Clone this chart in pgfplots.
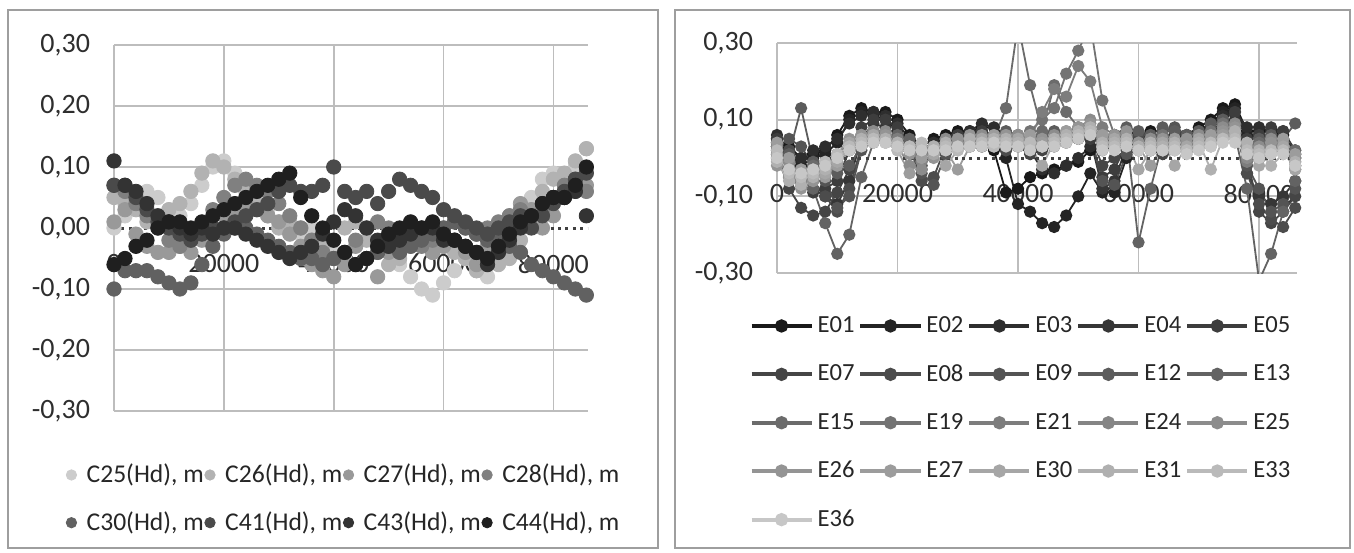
\documentclass[border=0pt]{standalone}
\usepackage{fontspec}
\setmainfont{Carlito}
\usepackage{pgfplots}
\usepackage{pgfplotstable}
\pgfplotsset{compat=1.18}
\definecolor{gridc}{gray}{0.74}
\definecolor{framec}{gray}{0.62}
\definecolor{C25}{gray}{0.80}\definecolor{C26}{gray}{0.70}\definecolor{C27}{gray}{0.60}\definecolor{C28}{gray}{0.50}
\definecolor{C30}{gray}{0.38}\definecolor{C41}{gray}{0.29}\definecolor{C43}{gray}{0.20}\definecolor{C44}{gray}{0.12}
\definecolor{E01}{gray}{0.10}\definecolor{E02}{gray}{0.14}\definecolor{E03}{gray}{0.18}\definecolor{E04}{gray}{0.21}
\definecolor{E05}{gray}{0.24}\definecolor{E07}{gray}{0.27}\definecolor{E08}{gray}{0.30}\definecolor{E09}{gray}{0.33}
\definecolor{E12}{gray}{0.36}\definecolor{E13}{gray}{0.39}\definecolor{E15}{gray}{0.42}\definecolor{E19}{gray}{0.45}
\definecolor{E21}{gray}{0.49}\definecolor{E24}{gray}{0.52}\definecolor{E25}{gray}{0.55}\definecolor{E26}{gray}{0.58}
\definecolor{E27}{gray}{0.61}\definecolor{E30}{gray}{0.65}\definecolor{E31}{gray}{0.69}\definecolor{E33}{gray}{0.73}
\definecolor{E36}{gray}{0.78}
\newcommand{\zerolab}{0,00}

\pgfplotstableread{
x C25 C26 C27 C28 C30 C41 C43 C44
0 0.00 0.05 0.01 0.07 -0.10 0.07 0.11 -0.06
2000 0.02 0.04 0.03 0.06 -0.07 0.07 0.07 -0.05
4000 0.05 0.03 -0.01 0.04 -0.07 0.05 0.06 -0.03
6000 0.06 0.01 -0.03 0.02 -0.07 0.03 0.04 -0.02
8000 0.05 0.02 -0.04 0.00 -0.08 0.01 0.02 0.00
10000 0.03 0.03 -0.04 -0.02 -0.09 0.00 0.01 0.01
12000 0.02 0.04 -0.03 -0.03 -0.10 -0.01 0.00 0.01
14000 0.04 0.06 -0.04 -0.02 -0.09 -0.02 -0.01 0.00
16000 0.07 0.09 -0.02 0.00 -0.06 -0.01 0.00 0.01
18000 0.10 0.11 0.00 0.03 -0.03 0.00 -0.01 0.02
20000 0.11 0.10 0.02 0.05 -0.01 0.00 0.00 0.03
22000 0.09 0.08 0.03 0.07 0.00 0.01 0.00 0.04
24000 0.07 0.06 0.04 0.08 0.00 0.02 -0.01 0.05
26000 0.05 0.04 0.03 0.07 -0.01 0.03 -0.02 0.06
28000 0.03 0.02 0.02 0.06 -0.02 0.04 -0.03 0.07
30000 0.01 0.00 0.01 0.04 -0.03 0.06 -0.04 0.08
32000 0.00 0.01 -0.01 0.02 -0.04 0.07 -0.05 0.09
34000 -0.01 0.00 -0.03 0.00 -0.05 0.06 -0.04 0.05
36000 0.00 -0.02 -0.06 -0.02 -0.05 0.06 -0.03 0.02
38000 -0.02 -0.03 -0.07 -0.04 -0.06 0.07 -0.01 0.00
40000 -0.04 -0.02 -0.08 -0.05 -0.05 0.10 0.01 -0.02
42000 -0.05 0.00 -0.06 -0.04 -0.04 0.06 0.03 -0.04
44000 -0.06 0.01 -0.03 -0.02 -0.06 0.05 0.02 -0.06
46000 -0.05 -0.02 -0.05 0.00 -0.05 0.06 0.00 -0.05
48000 -0.03 -0.04 -0.08 0.01 -0.04 0.04 -0.02 -0.03
50000 -0.04 -0.06 -0.04 0.00 -0.03 0.06 -0.03 -0.01
52000 -0.06 -0.05 -0.01 -0.01 -0.04 0.08 -0.02 0.00
54000 -0.08 -0.03 0.00 -0.02 -0.03 0.07 -0.01 0.01
56000 -0.10 -0.02 -0.02 -0.03 -0.02 0.06 0.00 0.00
58000 -0.11 -0.04 -0.04 -0.02 -0.01 0.05 0.00 0.01
60000 -0.09 -0.03 -0.03 0.00 0.00 0.03 -0.02 -0.01
62000 -0.07 -0.04 -0.02 0.01 0.01 0.02 -0.02 -0.02
64000 -0.05 -0.05 -0.04 0.00 0.00 0.01 -0.03 -0.03
66000 -0.07 -0.07 -0.06 -0.01 -0.01 0.00 -0.04 -0.04
68000 -0.08 -0.06 -0.03 0.00 -0.02 -0.01 -0.06 -0.05
70000 -0.05 -0.06 0.00 0.01 -0.02 0.00 -0.04 -0.03
72000 -0.02 -0.05 0.02 0.02 -0.03 0.01 -0.02 -0.01
74000 0.01 -0.02 0.04 0.03 -0.04 0.02 0.00 0.01
76000 0.05 0.03 0.03 0.02 -0.06 0.00 0.02 0.02
78000 0.08 0.06 0.00 0.03 -0.07 0.02 0.04 0.04
80000 0.09 0.08 0.02 0.05 -0.08 0.04 0.05 0.05
82000 0.07 0.09 0.05 0.07 -0.09 0.06 0.05 0.05
84000 0.10 0.11 0.06 0.08 -0.10 0.08 0.06 0.07
86000 0.13 0.13 0.07 0.06 -0.11 0.09 0.02 0.10
}\lefttab

\pgfplotsset{
  exc/.style={
    scale only axis, xmin=0, xmax=86300, ymin=-0.3, ymax=0.3,
    scaled x ticks=false, scaled y ticks=false,
    axis x line=middle, axis y line=left, axis line style={-},
    x axis line style={draw=none},
    y axis line style={draw=gridc, line width=0.9pt},
    hide obscured x ticks=false, hide obscured y ticks=false,
    grid=major, grid style={draw=gridc, line width=0.9pt},
    major tick length=0pt,
    xtick={0,20000,40000,60000,80000},
    xticklabels={0,20000,40000,60000,80000},
    tick label style={font=\fontsize{14}{16}\selectfont, text=black!82},
    xticklabel style={yshift=-9.5pt},
    yticklabel style={xshift=-8.5pt},
  },
  ls/.style={color=#1, only marks, mark=*, mark size=3.6pt},
  rs/.style={color=#1, mark=*, mark size=2.6pt, line width=0.9pt},
}

\begin{document}
\begin{tikzpicture}
\useasboundingbox (0pt,0pt) rectangle (677pt,276pt);
\draw[framec, line width=0.7pt] (4pt,2pt) rectangle (329pt,271pt);
\draw[framec, line width=0.7pt] (337.5pt,2pt) rectangle (675pt,271pt);

\begin{axis}[exc, at={(57pt,70.5pt)}, anchor=south west, width=237pt, height=183pt,
  ytick={-0.3,-0.2,-0.1,0.1,0.2,0.3},
  yticklabels={{-0,30},{-0,20},{-0,10},{0,10},{0,20},{0,30}},
  extra y ticks={0}, extra y tick labels={\zerolab},
  extra y tick style={grid=none},
  legend columns=4,
  legend style={at={(axis description cs:0.487,-0.24)}, anchor=center, draw=none, fill=none,
    font=\fontsize{12.8}{14}\selectfont, text=black!85, row sep=9pt,
    /tikz/every odd column/.append style={column sep=3pt},
    /tikz/every even column/.append style={column sep=-1.5pt}},
  legend image code/.code={\draw[#1, mark size=2.6pt] plot coordinates {(0pt,0pt)};},
]
\addplot[ls=C25] table[x=x,y=C25] {\lefttab};
\addplot[ls=C26] table[x=x,y=C26] {\lefttab};
\addplot[ls=C27] table[x=x,y=C27] {\lefttab};
\addplot[ls=C28] table[x=x,y=C28] {\lefttab};
\addplot[ls=C30] table[x=x,y=C30] {\lefttab};
\addplot[ls=C41] table[x=x,y=C41] {\lefttab};
\addplot[ls=C43] table[x=x,y=C43] {\lefttab};
\addplot[ls=C44] table[x=x,y=C44] {\lefttab};
\draw[black!75, line width=1.5pt, dash pattern=on 1.5pt off 2.2pt] (axis cs:0,0) -- (axis cs:86300,0);
\legend{{C25(Hd), m},{C26(Hd), m},{C27(Hd), m},{C28(Hd), m},{C30(Hd), m},{C41(Hd), m},{C43(Hd), m},{C44(Hd), m}}
\end{axis}

\begin{axis}[exc, at={(388.5pt,139.5pt)}, anchor=south west, width=260pt, height=115pt,
  ytick={-0.3,-0.1,0.1,0.3},
  yticklabels={{-0,30},{-0,10},{0,10},{0,30}},
  legend columns=5,
  legend style={at={(axis description cs:0.471,-0.652)}, anchor=center, draw=none, fill=none,
    font=\fontsize{12.3}{14}\selectfont, text=black!85, row sep=10.5pt,
    /tikz/every even column/.append style={column sep=0pt}},
  legend image code/.code={\draw[#1, line width=2pt, mark size=2.3pt, mark repeat=2, mark phase=2] plot coordinates {(0pt,0pt) (15pt,0pt) (30pt,0pt)};},
]
\addplot[rs=E01] coordinates {(0,0.05)(2000,0.03)(4000,0.00)(6000,0.01)(8000,0.02)(10000,0.06)(12000,0.11)(14000,0.13)(16000,0.12)(18000,0.12)(20000,0.10)(22000,0.06)(24000,0.03)(26000,0.05)(28000,0.06)(30000,0.07)(32000,0.07)(34000,0.08)(36000,0.02)(38000,-0.09)(40000,-0.08)(42000,-0.05)(44000,-0.04)(46000,-0.03)(48000,-0.02)(50000,-0.01)(52000,0.02)(54000,0.05)(56000,0.06)(58000,0.07)(60000,0.06)(62000,0.07)(64000,0.05)(66000,0.07)(68000,0.06)(70000,0.08)(72000,0.10)(74000,0.13)(76000,0.14)(78000,0.07)(80000,0.07)(82000,0.07)(84000,0.06)(86000,0.00)};
\addplot[rs=E02] coordinates {(0,0.04)(2000,0.01)(4000,-0.02)(6000,0.00)(8000,0.01)(10000,0.04)(12000,0.10)(14000,0.12)(16000,0.11)(18000,0.10)(20000,0.07)(22000,0.04)(24000,0.02)(26000,0.04)(28000,0.05)(30000,0.06)(32000,0.06)(34000,0.07)(36000,0.05)(38000,0.00)(40000,-0.12)(42000,-0.14)(44000,-0.17)(46000,-0.18)(48000,-0.15)(50000,-0.10)(52000,-0.04)(54000,-0.09)(56000,-0.09)(58000,0.00)(60000,0.04)(62000,0.06)(64000,0.04)(66000,0.06)(68000,0.05)(70000,0.07)(72000,0.09)(74000,0.12)(76000,0.13)(78000,0.06)(80000,0.06)(82000,0.05)(84000,0.05)(86000,-0.02)};
\addplot[rs=E03] coordinates {(0,0.06)(2000,0.02)(4000,0.00)(6000,0.02)(8000,0.03)(10000,0.05)(12000,0.09)(14000,0.11)(16000,0.12)(18000,0.11)(20000,0.09)(22000,0.05)(24000,0.02)(26000,0.04)(28000,0.05)(30000,0.06)(32000,0.07)(34000,0.09)(36000,0.08)(38000,0.06)(40000,0.03)(42000,0.02)(44000,-0.03)(46000,-0.04)(48000,-0.02)(50000,0.00)(52000,0.03)(54000,0.04)(56000,0.05)(58000,0.05)(60000,0.06)(62000,0.05)(64000,0.04)(66000,0.06)(68000,0.05)(70000,0.07)(72000,0.08)(74000,0.11)(76000,0.12)(78000,0.08)(80000,0.08)(82000,0.07)(84000,0.07)(86000,0.01)};
\addplot[rs=E04] coordinates {(0,0.03)(2000,-0.03)(4000,-0.06)(6000,-0.08)(8000,-0.10)(10000,-0.12)(12000,-0.06)(14000,0.05)(16000,0.09)(18000,0.08)(20000,0.06)(22000,0.02)(24000,-0.03)(26000,0.02)(28000,0.04)(30000,0.05)(32000,0.04)(34000,0.06)(36000,0.05)(38000,0.03)(40000,0.04)(42000,0.02)(44000,0.03)(46000,0.04)(48000,0.05)(50000,0.06)(52000,0.05)(54000,-0.08)(56000,-0.06)(58000,0.03)(60000,0.04)(62000,0.03)(64000,0.02)(66000,0.04)(68000,0.03)(70000,0.05)(72000,0.07)(74000,0.09)(76000,0.10)(78000,-0.04)(80000,-0.10)(82000,-0.12)(84000,-0.10)(86000,-0.06)};
\addplot[rs=E05] coordinates {(0,0.05)(2000,0.00)(4000,-0.07)(6000,-0.09)(8000,-0.08)(10000,-0.06)(12000,0.02)(14000,0.08)(16000,0.10)(18000,0.10)(20000,0.08)(22000,0.04)(24000,0.00)(26000,0.03)(28000,0.05)(30000,0.06)(32000,0.05)(34000,0.07)(36000,0.06)(38000,0.04)(40000,0.05)(42000,0.03)(44000,0.04)(46000,0.05)(48000,0.06)(50000,0.07)(52000,0.05)(54000,-0.05)(56000,-0.03)(58000,0.04)(60000,0.05)(62000,0.06)(64000,0.05)(66000,0.07)(68000,0.06)(70000,0.07)(72000,0.08)(74000,0.10)(76000,0.12)(78000,0.05)(80000,0.06)(82000,0.08)(84000,0.07)(86000,0.02)};
\addplot[rs=E07] coordinates {(0,0.01)(2000,-0.08)(4000,-0.13)(6000,-0.15)(8000,-0.14)(10000,-0.09)(12000,-0.03)(14000,0.04)(16000,0.07)(18000,0.07)(20000,0.05)(22000,0.02)(24000,-0.02)(26000,0.01)(28000,0.03)(30000,0.04)(32000,0.03)(34000,0.05)(36000,0.04)(38000,0.02)(40000,0.03)(42000,0.01)(44000,0.02)(46000,0.03)(48000,0.04)(50000,0.05)(52000,0.06)(54000,-0.02)(56000,0.00)(58000,0.02)(60000,0.03)(62000,0.02)(64000,0.01)(66000,0.03)(68000,0.02)(70000,0.04)(72000,0.06)(74000,0.08)(76000,0.09)(78000,0.00)(80000,-0.14)(82000,-0.17)(84000,-0.14)(86000,-0.10)};
\addplot[rs=E08] coordinates {(0,0.04)(2000,0.02)(4000,-0.04)(6000,-0.06)(8000,-0.10)(10000,-0.14)(12000,-0.08)(14000,0.03)(16000,0.06)(18000,0.06)(20000,0.05)(22000,0.03)(24000,-0.06)(26000,-0.05)(28000,0.03)(30000,0.04)(32000,0.05)(34000,0.04)(36000,0.03)(38000,0.02)(40000,0.04)(42000,0.03)(44000,0.04)(46000,0.05)(48000,0.06)(50000,0.07)(52000,0.08)(54000,0.02)(56000,0.03)(58000,0.05)(60000,0.06)(62000,0.04)(64000,0.03)(66000,0.05)(68000,0.04)(70000,0.06)(72000,0.05)(74000,0.07)(76000,0.08)(78000,-0.04)(80000,-0.12)(82000,-0.16)(84000,-0.18)(86000,-0.13)};
\addplot[rs=E09] coordinates {(0,0.02)(2000,0.05)(4000,0.03)(6000,-0.02)(8000,-0.06)(10000,-0.13)(12000,-0.10)(14000,0.02)(16000,0.05)(18000,0.05)(20000,0.04)(22000,0.02)(24000,-0.04)(26000,-0.07)(28000,0.01)(30000,0.03)(32000,0.04)(34000,0.03)(36000,0.04)(38000,0.05)(40000,0.04)(42000,0.05)(44000,0.04)(46000,0.05)(48000,0.06)(50000,0.05)(52000,0.06)(54000,-0.06)(56000,-0.07)(58000,0.01)(60000,0.02)(62000,0.04)(64000,0.07)(66000,0.08)(68000,0.06)(70000,0.05)(72000,0.06)(74000,0.09)(76000,0.07)(78000,-0.02)(80000,-0.08)(82000,-0.14)(84000,-0.12)(86000,-0.08)};
\addplot[rs=E12] coordinates {(0,0.03)(2000,0.01)(4000,0.13)(6000,-0.01)(8000,-0.03)(10000,-0.04)(12000,-0.02)(14000,0.03)(16000,0.05)(18000,0.06)(20000,0.05)(22000,0.04)(24000,0.02)(26000,0.03)(28000,0.04)(30000,0.05)(32000,0.04)(34000,0.05)(36000,0.06)(38000,0.07)(40000,0.06)(42000,0.05)(44000,0.06)(46000,0.07)(48000,0.06)(50000,0.07)(52000,0.08)(54000,0.05)(56000,0.06)(58000,0.08)(60000,0.07)(62000,0.06)(64000,0.08)(66000,0.07)(68000,0.06)(70000,0.07)(72000,0.09)(74000,0.10)(76000,0.09)(78000,0.03)(80000,0.05)(82000,0.06)(84000,0.05)(86000,0.09)};
\addplot[rs=E13] coordinates {(0,0.00)(2000,-0.04)(4000,-0.06)(6000,-0.08)(8000,-0.17)(10000,-0.25)(12000,-0.20)(14000,-0.05)(16000,0.04)(18000,0.05)(20000,0.06)(22000,0.05)(24000,0.01)(26000,0.03)(28000,0.02)(30000,0.03)(32000,0.04)(34000,0.03)(36000,0.04)(38000,0.05)(40000,0.04)(42000,0.05)(44000,0.06)(46000,0.05)(48000,0.06)(50000,0.07)(52000,0.06)(54000,0.04)(56000,0.05)(58000,0.06)(60000,-0.22)(62000,-0.08)(64000,0.04)(66000,0.05)(68000,0.04)(70000,0.05)(72000,0.07)(74000,0.08)(76000,0.06)(78000,-0.08)(80000,-0.32)(82000,-0.25)(84000,-0.14)(86000,-0.06)};
\addplot[rs=E15] coordinates {(0,0.02)(2000,-0.01)(4000,-0.03)(6000,-0.02)(8000,-0.01)(10000,0.01)(12000,0.04)(14000,0.05)(16000,0.06)(18000,0.05)(20000,0.04)(22000,0.02)(24000,0.01)(26000,0.03)(28000,0.04)(30000,0.03)(32000,0.04)(34000,0.05)(36000,0.05)(38000,0.13)(40000,0.35)(42000,0.19)(44000,0.07)(46000,0.19)(48000,0.12)(50000,0.08)(52000,0.07)(54000,0.06)(56000,0.05)(58000,0.06)(60000,0.04)(62000,0.05)(64000,0.04)(66000,0.03)(68000,0.04)(70000,0.05)(72000,0.06)(74000,0.08)(76000,0.07)(78000,0.03)(80000,0.04)(82000,0.05)(84000,0.04)(86000,0.02)};
\addplot[rs=E19] coordinates {(0,0.03)(2000,0.00)(4000,-0.04)(6000,-0.03)(8000,-0.02)(10000,0.00)(12000,0.03)(14000,0.05)(16000,0.06)(18000,0.06)(20000,0.05)(22000,0.03)(24000,0.01)(26000,0.02)(28000,0.03)(30000,0.04)(32000,0.05)(34000,0.04)(36000,0.05)(38000,0.06)(40000,0.05)(42000,0.07)(44000,0.10)(46000,0.13)(48000,0.22)(50000,0.28)(52000,0.35)(54000,0.15)(56000,0.06)(58000,0.05)(60000,0.04)(62000,0.05)(64000,0.06)(66000,0.05)(68000,0.04)(70000,0.06)(72000,0.07)(74000,0.09)(76000,0.08)(78000,0.02)(80000,0.03)(82000,0.04)(84000,0.03)(86000,0.01)};
\addplot[rs=E21] coordinates {(0,0.01)(2000,-0.05)(4000,-0.07)(6000,-0.05)(8000,-0.03)(10000,-0.01)(12000,0.03)(14000,0.06)(16000,0.07)(18000,0.06)(20000,0.05)(22000,0.03)(24000,0.00)(26000,0.02)(28000,0.04)(30000,0.05)(32000,0.03)(34000,0.04)(36000,0.05)(38000,0.04)(40000,0.06)(42000,0.05)(44000,0.12)(46000,0.18)(48000,0.16)(50000,0.24)(52000,0.20)(54000,0.08)(56000,0.06)(58000,0.05)(60000,0.03)(62000,0.04)(64000,0.02)(66000,0.03)(68000,0.05)(70000,0.04)(72000,0.05)(74000,0.07)(76000,0.06)(78000,-0.01)(80000,0.02)(82000,0.03)(84000,0.02)(86000,-0.03)};
\addplot[rs=E24] coordinates {(0,0.00)(2000,-0.03)(4000,-0.06)(6000,-0.05)(8000,-0.04)(10000,-0.02)(12000,0.02)(14000,0.05)(16000,0.06)(18000,0.05)(20000,0.04)(22000,0.02)(24000,-0.01)(26000,0.01)(28000,0.03)(30000,0.04)(32000,0.03)(34000,0.04)(36000,0.05)(38000,0.04)(40000,0.04)(42000,0.03)(44000,0.04)(46000,0.05)(48000,0.06)(50000,0.07)(52000,0.08)(54000,0.03)(56000,0.04)(58000,0.05)(60000,0.03)(62000,0.04)(64000,0.02)(66000,0.03)(68000,0.02)(70000,0.04)(72000,0.05)(74000,0.07)(76000,0.06)(78000,0.01)(80000,0.02)(82000,0.03)(84000,0.02)(86000,-0.01)};
\addplot[rs=E25] coordinates {(0,0.03)(2000,-0.01)(4000,-0.04)(6000,-0.06)(8000,-0.03)(10000,0.00)(12000,0.03)(14000,0.06)(16000,0.07)(18000,0.07)(20000,0.03)(22000,-0.02)(24000,-0.03)(26000,0.02)(28000,0.05)(30000,0.04)(32000,0.05)(34000,0.06)(36000,0.04)(38000,0.05)(40000,0.06)(42000,0.04)(44000,0.03)(46000,0.06)(48000,0.07)(50000,0.08)(52000,0.10)(54000,0.04)(56000,0.03)(58000,0.06)(60000,0.02)(62000,0.05)(64000,0.04)(66000,0.02)(68000,0.04)(70000,0.06)(72000,0.04)(74000,0.08)(76000,0.09)(78000,0.00)(80000,0.03)(82000,0.05)(84000,0.04)(86000,0.00)};
\addplot[rs=E26] coordinates {(0,-0.02)(2000,-0.05)(4000,-0.08)(6000,-0.06)(8000,-0.02)(10000,0.01)(12000,0.05)(14000,0.06)(16000,0.05)(18000,0.06)(20000,0.04)(22000,0.01)(24000,0.02)(26000,0.00)(28000,0.03)(30000,0.05)(32000,0.06)(34000,0.04)(36000,0.05)(38000,0.06)(40000,0.04)(42000,0.05)(44000,0.05)(46000,0.04)(48000,0.06)(50000,0.08)(52000,0.09)(54000,0.05)(56000,0.06)(58000,0.07)(60000,0.04)(62000,0.03)(64000,0.05)(66000,0.04)(68000,0.05)(70000,0.03)(72000,0.05)(74000,0.07)(76000,0.08)(78000,0.03)(80000,0.01)(82000,0.04)(84000,0.03)(86000,-0.02)};
\addplot[rs=E27] coordinates {(0,0.04)(2000,0.00)(4000,-0.03)(6000,-0.04)(8000,-0.05)(10000,-0.02)(12000,0.02)(14000,0.05)(16000,0.06)(18000,0.05)(20000,0.02)(22000,-0.04)(24000,0.00)(26000,0.03)(28000,0.02)(30000,-0.03)(32000,0.03)(34000,0.05)(36000,0.06)(38000,0.04)(40000,0.05)(42000,0.06)(44000,0.04)(46000,0.05)(48000,0.07)(50000,0.06)(52000,0.08)(54000,0.06)(56000,0.04)(58000,0.05)(60000,0.03)(62000,-0.02)(64000,0.03)(66000,0.05)(68000,0.03)(70000,0.04)(72000,0.06)(74000,0.06)(76000,0.07)(78000,0.02)(80000,0.00)(82000,0.02)(84000,0.05)(86000,0.01)};
\addplot[rs=E30] coordinates {(0,0.01)(2000,-0.03)(4000,-0.05)(6000,-0.03)(8000,-0.04)(10000,-0.01)(12000,0.04)(14000,0.04)(16000,0.06)(18000,0.04)(20000,0.03)(22000,0.02)(24000,0.03)(26000,0.01)(28000,-0.02)(30000,0.02)(32000,0.04)(34000,0.05)(36000,0.03)(38000,0.04)(40000,0.05)(42000,0.03)(44000,-0.02)(46000,0.04)(48000,0.05)(50000,0.06)(52000,0.07)(54000,0.03)(56000,0.05)(58000,0.04)(60000,-0.03)(62000,0.02)(64000,0.04)(66000,-0.02)(68000,0.03)(70000,0.05)(72000,0.03)(74000,0.05)(76000,0.06)(78000,0.01)(80000,-0.02)(82000,0.01)(84000,0.03)(86000,-0.03)};
\addplot[rs=E31] coordinates {(0,-0.01)(2000,-0.06)(4000,-0.07)(6000,-0.05)(8000,-0.03)(10000,0.00)(12000,0.03)(14000,0.05)(16000,0.05)(18000,0.05)(20000,0.04)(22000,0.03)(24000,0.02)(26000,0.03)(28000,0.04)(30000,0.03)(32000,0.05)(34000,0.04)(36000,0.05)(38000,0.05)(40000,0.04)(42000,0.04)(44000,0.03)(46000,0.05)(48000,0.06)(50000,0.07)(52000,0.08)(54000,0.04)(56000,0.04)(58000,0.05)(60000,0.03)(62000,0.04)(64000,0.03)(66000,0.04)(68000,0.02)(70000,0.04)(72000,-0.03)(74000,0.05)(76000,0.07)(78000,0.04)(80000,0.02)(82000,-0.02)(84000,0.01)(86000,-0.01)};
\addplot[rs=E33] coordinates {(0,0.02)(2000,-0.04)(4000,-0.05)(6000,-0.04)(8000,-0.01)(10000,0.01)(12000,0.03)(14000,0.04)(16000,0.05)(18000,0.04)(20000,0.02)(22000,0.03)(24000,0.04)(26000,0.02)(28000,0.03)(30000,0.02)(32000,0.03)(34000,0.04)(36000,0.03)(38000,0.04)(40000,0.03)(42000,0.04)(44000,0.03)(46000,0.04)(48000,0.05)(50000,0.06)(52000,0.07)(54000,0.03)(56000,0.03)(58000,0.04)(60000,0.02)(62000,0.03)(64000,0.02)(66000,0.03)(68000,0.02)(70000,0.03)(72000,0.04)(74000,0.05)(76000,0.05)(78000,0.02)(80000,0.01)(82000,0.02)(84000,0.02)(86000,-0.02)};
\addplot[rs=E36] coordinates {(0,0.00)(2000,-0.03)(4000,-0.04)(6000,-0.03)(8000,-0.02)(10000,0.00)(12000,0.02)(14000,0.03)(16000,0.04)(18000,0.04)(20000,0.03)(22000,0.02)(24000,0.02)(26000,0.02)(28000,0.02)(30000,0.03)(32000,0.03)(34000,0.03)(36000,0.04)(38000,0.03)(40000,0.03)(42000,0.02)(44000,0.03)(46000,0.03)(48000,0.04)(50000,0.05)(52000,0.06)(54000,0.02)(56000,0.02)(58000,0.03)(60000,0.02)(62000,0.02)(64000,0.02)(66000,0.02)(68000,0.01)(70000,0.02)(72000,0.03)(74000,0.04)(76000,0.04)(78000,0.01)(80000,0.00)(82000,0.01)(84000,0.01)(86000,-0.02)};
\draw[black!75, line width=1.5pt, dash pattern=on 1.5pt off 2.2pt] (axis cs:0,0) -- (axis cs:86300,0);
\legend{E01,E02,E03,E04,E05,E07,E08,E09,E12,E13,E15,E19,E21,E24,E25,E26,E27,E30,E31,E33,E36}
\end{axis}
\end{tikzpicture}
\end{document}
